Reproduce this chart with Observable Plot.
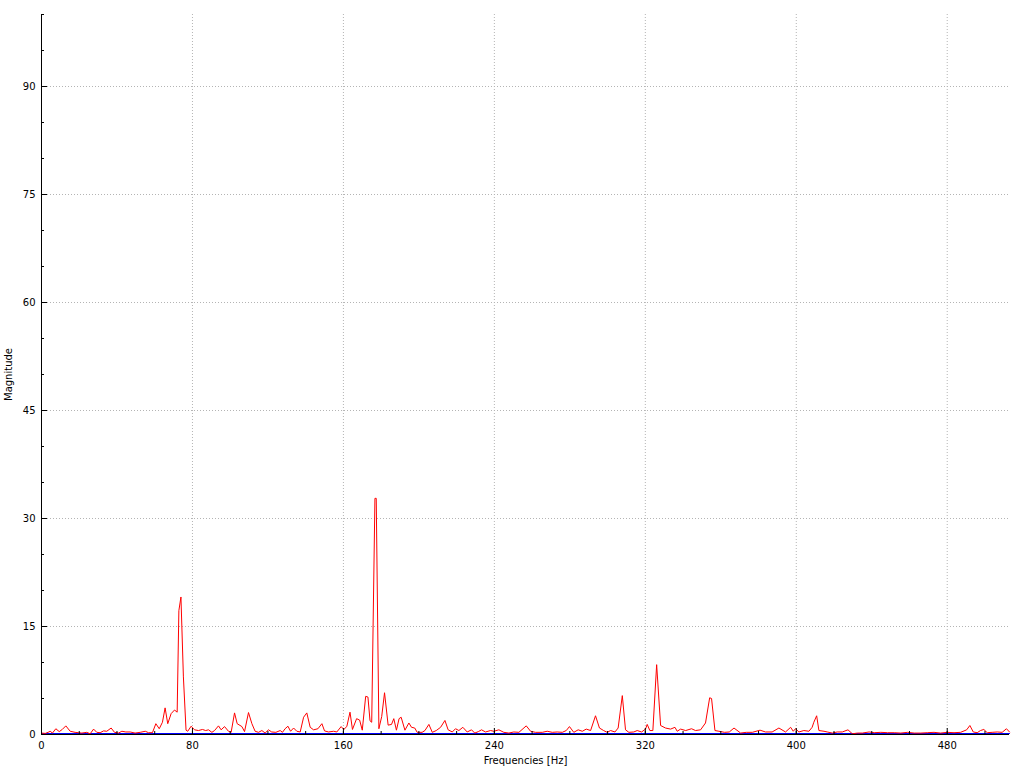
<!DOCTYPE html>
<html>
<head>
<meta charset="utf-8">
<script src="https://cdn.jsdelivr.net/npm/d3@7"></script>
<script src="https://cdn.jsdelivr.net/npm/@observablehq/plot@0.6"></script>
<style>
  html, body { margin: 0; padding: 0; background: #fff; }
  #chart svg { display: block; }
</style>
</head>
<body>
<div id="chart"></div>
<script>
// Frequencies (Hz) and magnitudes
const freqs = [0,2,3.5,4.6,5.8,7.6,9.4,11,12.9,15.2,17.8,19.5,21.4,24,25.8,27.6,29.3,31.1,32.9,34.6,36.9,38.7,40.8,42.6,44.7,47,49.6,52.3,55,56.7,58.8,60.6,62.4,64.1,65.5,66.9,68.7,70.5,71.9,72.8,73.9,75.2,76.6,77.5,79.3,81.1,83.2,85.3,87,88.5,90.3,91.7,93.8,95.2,97,99.1,100.5,102.3,103.7,106.2,107.6,109.7,111.5,113.2,115,116.8,118.5,120.3,122,124.2,126.5,127.7,129.1,130.6,132,133.6,135.3,137.1,138.9,140.6,142.4,144.2,146.5,148.6,150,152.1,154.8,156.5,158.8,160.2,161.8,163.5,164.8,167,168.6,170,171.8,173,174.1,175,176.7,177.4,178.8,180.3,181.8,183.7,185.5,186.7,188.1,189.5,190.6,192.6,194.7,196.1,197.8,199.1,201.7,203.2,205.3,207.1,209.2,211.5,213.8,215.5,217.7,219.4,221.2,223.3,225.6,227.9,229.6,231.5,233.2,235.3,238,239.7,242.4,245,247.7,250.3,253,256.9,259.2,261.8,265.4,268,270.7,273.3,276,278.1,279.8,282.1,284.4,286.6,288.7,291,293.6,295.7,297.9,299.8,301.6,303.9,305.6,307.8,309.5,311.3,313.9,315.7,318,320.1,321,322.4,324,326,328.1,330.7,333.4,335.7,336.9,338.7,341.4,344.5,346.6,349.3,351.9,354.1,355.1,356.9,359,362,364.5,367,370.5,373.5,376.7,380.8,383.7,387.2,390.8,394.3,397,398.4,399.6,401.4,404,406.7,408.4,409.3,410.8,412,414.7,416.4,419.1,421.7,424.4,427.4,429.7,432.4,435,438.6,441.3,444.8,448.4,451.9,455.4,459,462.5,466,469.4,473,476.5,480,483.6,487.1,490.3,492,493.8,495.9,497.6,499.4,501.2,503.8,506.5,509.1,511.4,513];
const mags = [0.2,0.15,0.3,0.45,0.2,0.8,0.4,0.7,1.2,0.45,0.3,0.25,0.2,0.3,0.1,0.75,0.3,0.25,0.5,0.45,0.9,0.3,0.2,0.45,0.35,0.35,0.2,0.3,0.45,0.25,0.25,1.5,0.8,1.7,3.7,1.5,2.9,3.4,3.1,17.2,19.1,8,0.6,0.45,1.15,0.65,0.55,0.7,0.55,0.65,0.3,0.55,1.2,0.65,1.1,0.45,0.3,3.0,1.5,1.1,0.4,3.05,1.5,0.45,0.3,0.55,0.2,0.65,0.35,0.3,0.55,0.3,0.8,1.15,0.45,0.9,0.45,0.35,2.4,3.0,1.0,0.65,0.8,1.5,0.5,0.35,0.45,0.35,1.1,0.7,1.1,3.1,0.7,2.2,2.0,0.6,5.3,5.2,1.9,1.7,32.8,32.8,0.8,2.5,5.8,1.3,1.4,2.2,0.6,2.2,2.4,0.6,1.6,1.0,0.9,0.3,0.3,0.55,1.4,0.3,0.55,1.0,1.95,0.65,0.35,0.8,0.55,1.0,0.35,0.65,0.2,0.4,0.65,0.35,0.55,0.45,0.65,0.3,0.2,0.35,0.3,1.2,0.45,0.3,0.3,0.45,0.3,0.35,0.3,0.55,1.1,0.3,0.65,0.45,0.75,0.55,2.6,0.9,0.55,0.3,0.55,0.35,0.9,5.4,0.65,0.3,0.35,0.55,0.35,0.75,1.4,0.55,0.55,9.7,1.25,0.9,0.75,1.0,0.45,0.75,0.55,0.8,0.55,0.65,1.6,5.1,5.0,0.55,0.45,0.3,0.35,0.9,0.2,0.3,0.3,0.6,0.35,0.35,0.9,0.35,1.0,0.45,0.8,0.35,0.55,0.45,1.0,1.7,2.6,0.55,0.45,0.35,0.2,0.35,0.35,0.65,0.1,0.2,0.2,0.35,0.25,0.3,0.25,0.25,0.2,0.3,0.2,0.2,0.25,0.3,0.2,0.3,0.25,0.3,0.65,1.25,0.35,0.25,0.55,0.7,0.25,0.3,0.35,0.3,0.8,0.35];

const xDomain = [0, 513];
const yDomain = [0, 100];
const xMajor = [0, 80, 160, 240, 320, 400, 480];
const xMinor = d3.range(0, 513, 20);
const yMajor = [0, 15, 30, 45, 60, 75, 90];
const yMinor = d3.range(0, 101, 5);
const xGrid = xMajor.filter(d => d > 0);
const yGrid = yMajor.filter(d => d > 0);
const xLabel = "Frequencies [Hz]";
const yLabel = "Magnitude";

const data = freqs.map((f, i) => ({f, m: mags[i]}));
const zeroLine = [{f: 0, m: 0}, {f: 513, m: 0}];

const W = 1024, H = 768;
const mL = 41, mR = 15, mT = 14, mB = 34;
const pw = W - mL - mR, ph = H - mT - mB;

const chart = Plot.plot({
  width: W, height: H,
  marginLeft: mL, marginRight: mR, marginTop: mT, marginBottom: mB,
  x: {domain: xDomain, axis: null},
  y: {domain: yDomain, axis: null},
  style: {fontFamily: "'DejaVu Sans', sans-serif", fontSize: "10px", background: "#fff", color: "#000"},
  marks: [
    Plot.ruleX(xGrid, {stroke: "#b4b4b4", strokeDasharray: "1,2"}),
    Plot.ruleY(yGrid, {stroke: "#b4b4b4", strokeDasharray: "1,2"}),
    Plot.line(zeroLine, {x: "f", y: "m", stroke: "#0000ff", strokeWidth: 1, dy: -1}),
    Plot.line(data, {x: "f", y: "m", stroke: "#ff0000", strokeWidth: 1}),
    Plot.ruleX([0], {stroke: "#000", strokeWidth: 1}),
    Plot.ruleY([0], {stroke: "#000", strokeWidth: 1}),
    Plot.tickY(yMinor, {y: d => d, stroke: "#000", insetRight: pw - 3}),
    Plot.tickY(yMajor, {y: d => d, stroke: "#000", insetRight: pw - 6}),
    Plot.tickX(xMinor, {x: d => d, stroke: "#000", insetTop: ph - 3}),
    Plot.tickX(xMajor, {x: d => d, stroke: "#000", insetTop: ph - 6}),
    Plot.text(yMajor, {x: 0, y: d => d, text: d => String(d), textAnchor: "end", dx: -6, fill: "#000"}),
    Plot.text(xMajor, {x: d => d, y: 0, text: d => String(d), dy: 11, fill: "#000"}),
    Plot.text([xLabel], {frameAnchor: "bottom", textAnchor: "middle", lineAnchor: "middle", dy: 26, fill: "#000"}),
    Plot.text([yLabel], {frameAnchor: "left", textAnchor: "middle", lineAnchor: "middle", dx: -33, rotate: -90, fill: "#000"})
  ]
});
document.getElementById("chart").appendChild(chart);
</script>
</body>
</html>
